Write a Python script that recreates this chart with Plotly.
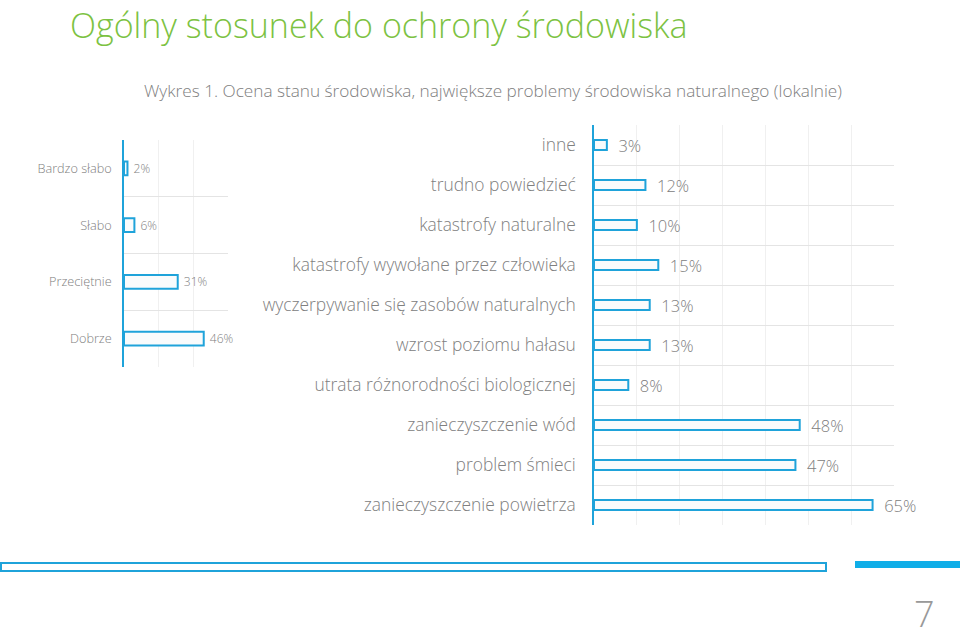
import plotly.graph_objects as go

# Left chart: overall assessment of environment
left_cats = ["Bardzo słabo", "Słabo", "Przeciętnie", "Dobrze"]
left_vals = [2, 6, 31, 46]

# Right chart: biggest local environmental problems
right_cats = ["inne", "trudno powiedzieć", "katastrofy naturalne",
              "katastrofy wywołane przez człowieka",
              "wyczerpywanie się zasobów naturalnych",
              "wzrost poziomu hałasu",
              "utrata różnorodności biologicznej",
              "zanieczyszczenie wód", "problem śmieci",
              "zanieczyszczenie powietrza"]
right_vals = [3, 12, 10, 15, 13, 13, 8, 48, 47, 65]

BLUE = "#1fa3da"
GRAY = "#808080"
FONT = "Open Sans"
WT = 300
W, H = 960, 640

fig = go.Figure()
fig.add_trace(go.Bar(
    x=left_vals, y=left_cats, orientation="h", xaxis="x", yaxis="y",
    width=0.24, marker=dict(color="#f9fbfc", line=dict(color=BLUE, width=2)),
    text=[f" {v}%" for v in left_vals], textposition="outside",
    constraintext="none",
    textfont=dict(family=FONT, size=12, color=GRAY, weight=WT), cliponaxis=False,
    hoverinfo="skip"))
fig.add_trace(go.Bar(
    x=right_vals, y=right_cats, orientation="h", xaxis="x2", yaxis="y2",
    width=0.25, marker=dict(color="#f9fbfc", line=dict(color=BLUE, width=2)),
    text=[f"  {v}%" for v in right_vals], textposition="outside",
    constraintext="none",
    textfont=dict(family=FONT, size=16.5, color=GRAY, weight=WT), cliponaxis=False,
    hoverinfo="skip"))

def px_x(p):
    return p / W

def px_y(p):
    return 1 - p / H

fig.update_layout(
    width=W, height=H, margin=dict(l=0, r=0, t=0, b=0),
    paper_bgcolor="white", plot_bgcolor="white", showlegend=False,
    font=dict(family=FONT, color=GRAY, weight=WT),
    xaxis=dict(domain=[px_x(124), px_x(228)], range=[0, 60], dtick=20,
               showticklabels=False, showgrid=True, gridcolor="#f0f0f0",
               zeroline=False, anchor="y", fixedrange=True),
    yaxis=dict(domain=[px_y(367), px_y(140)], type="category",
               categoryorder="array", categoryarray=left_cats,
               autorange="reversed", tickson="boundaries",
               showgrid=True, gridcolor="#e4e4e4", ticks="",
               showline=True, linecolor=BLUE, linewidth=1.5,
               ticklabelstandoff=8, anchor="x",
               tickfont=dict(family=FONT, size=12.7, color=GRAY, weight=WT)),
    xaxis2=dict(domain=[px_x(594), px_x(894)], range=[0, 70], dtick=10,
                showticklabels=False, showgrid=True, gridcolor="#f0f0f0",
                zeroline=False, anchor="y2", fixedrange=True),
    yaxis2=dict(domain=[px_y(525), px_y(125)], type="category",
                categoryorder="array", categoryarray=right_cats,
                autorange="reversed", tickson="boundaries",
                showgrid=True, gridcolor="#e4e4e4", ticks="",
                showline=True, linecolor=BLUE, linewidth=1.5,
                ticklabelstandoff=13, anchor="x2",
                tickfont=dict(family=FONT, size=17.4, color=GRAY, weight=WT)),
)

# Title and subtitle
fig.add_annotation(text="Ogólny stosunek do ochrony środowiska",
                   xref="paper", yref="paper", x=px_x(68), y=1,
                   xanchor="left", yanchor="top", showarrow=False,
                   font=dict(family=FONT, size=34, color="#7cc242", weight=WT))
fig.add_annotation(text="Wykres 1. Ocena stanu środowiska, największe problemy środowiska naturalnego (lokalnie)",
                   xref="paper", yref="paper", x=px_x(142), y=px_y(90),
                   xanchor="left", yanchor="middle", showarrow=False,
                   font=dict(family=FONT, size=17.2, color=GRAY, weight=WT))
# Page number
fig.add_annotation(text="7", xref="paper", yref="paper", x=px_x(924), y=0,
                   xanchor="center", yanchor="bottom", showarrow=False,
                   font=dict(family=FONT, size=36, color="#999999", weight=WT))

# Decorative footer bars
fig.add_shape(type="rect", xref="paper", yref="paper",
              x0=px_x(1), x1=px_x(826), y0=px_y(571), y1=px_y(563),
              line=dict(color=BLUE, width=2), fillcolor="white")
fig.add_shape(type="rect", xref="paper", yref="paper",
              x0=px_x(855), x1=1, y0=px_y(568), y1=px_y(561),
              line=dict(width=0), fillcolor="#10aee8")

fig.write_html("out.html", config={"displayModeBar": False},
               post_script="document.body.style.margin='0';document.body.style.overflow='hidden';")
